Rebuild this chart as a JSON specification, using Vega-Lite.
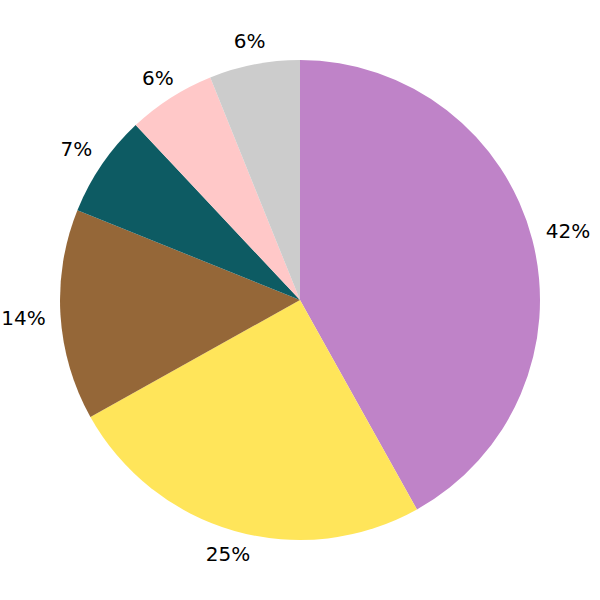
{
  "$schema": "https://vega.github.io/schema/vega-lite/v6.json",
  "width": 600,
  "height": 600,
  "autosize": {"type": "fit", "contains": "padding"},
  "padding": 0,
  "background": "white",
  "view": {"stroke": null},
  "data": {"values": [
    {"cat": "A", "value": 41.9, "label": "42%", "ord": 1, "grp": "side"},
    {"cat": "B", "value": 25.0, "label": "25%", "ord": 2, "grp": "vert"},
    {"cat": "C", "value": 14.2, "label": "14%", "ord": 3, "grp": "side"},
    {"cat": "D", "value": 6.9, "label": "7%", "ord": 4, "grp": "mid"},
    {"cat": "E", "value": 5.9, "label": "6%", "ord": 5, "grp": "vert"},
    {"cat": "F", "value": 6.1, "label": "6%", "ord": 6, "grp": "vert"}
  ]},
  "encoding": {
    "theta": {"field": "value", "type": "quantitative", "stack": true},
    "order": {"field": "ord", "type": "quantitative"},
    "color": {"field": "cat", "type": "nominal", "legend": null,
      "scale": {"domain": ["A","B","C","D","E","F"],
                "range": ["#BF83C8","#FFE55A","#956738","#0D5B63","#FFC8C8","#CCCCCC"]}}
  },
  "layer": [
    {"mark": {"type": "arc", "outerRadius": 240}},
    {"mark": {"type": "text", "radius": 277, "dy": 2, "fontSize": 20, "font": "DejaVu Sans"},
     "encoding": {"text": {"condition": {"test": "datum.grp === 'side'", "field": "label"}, "value": ""}, "color": {"value": "black"}}},
    {"mark": {"type": "text", "radius": 271, "dy": 3, "fontSize": 20, "font": "DejaVu Sans"},
     "encoding": {"text": {"condition": {"test": "datum.grp === 'mid'", "field": "label"}, "value": ""}, "color": {"value": "black"}}},
    {"mark": {"type": "text", "radius": 264, "dy": 1, "fontSize": 20, "font": "DejaVu Sans"},
     "encoding": {"text": {"condition": {"test": "datum.grp === 'vert'", "field": "label"}, "value": ""}, "color": {"value": "black"}}}
  ]
}
